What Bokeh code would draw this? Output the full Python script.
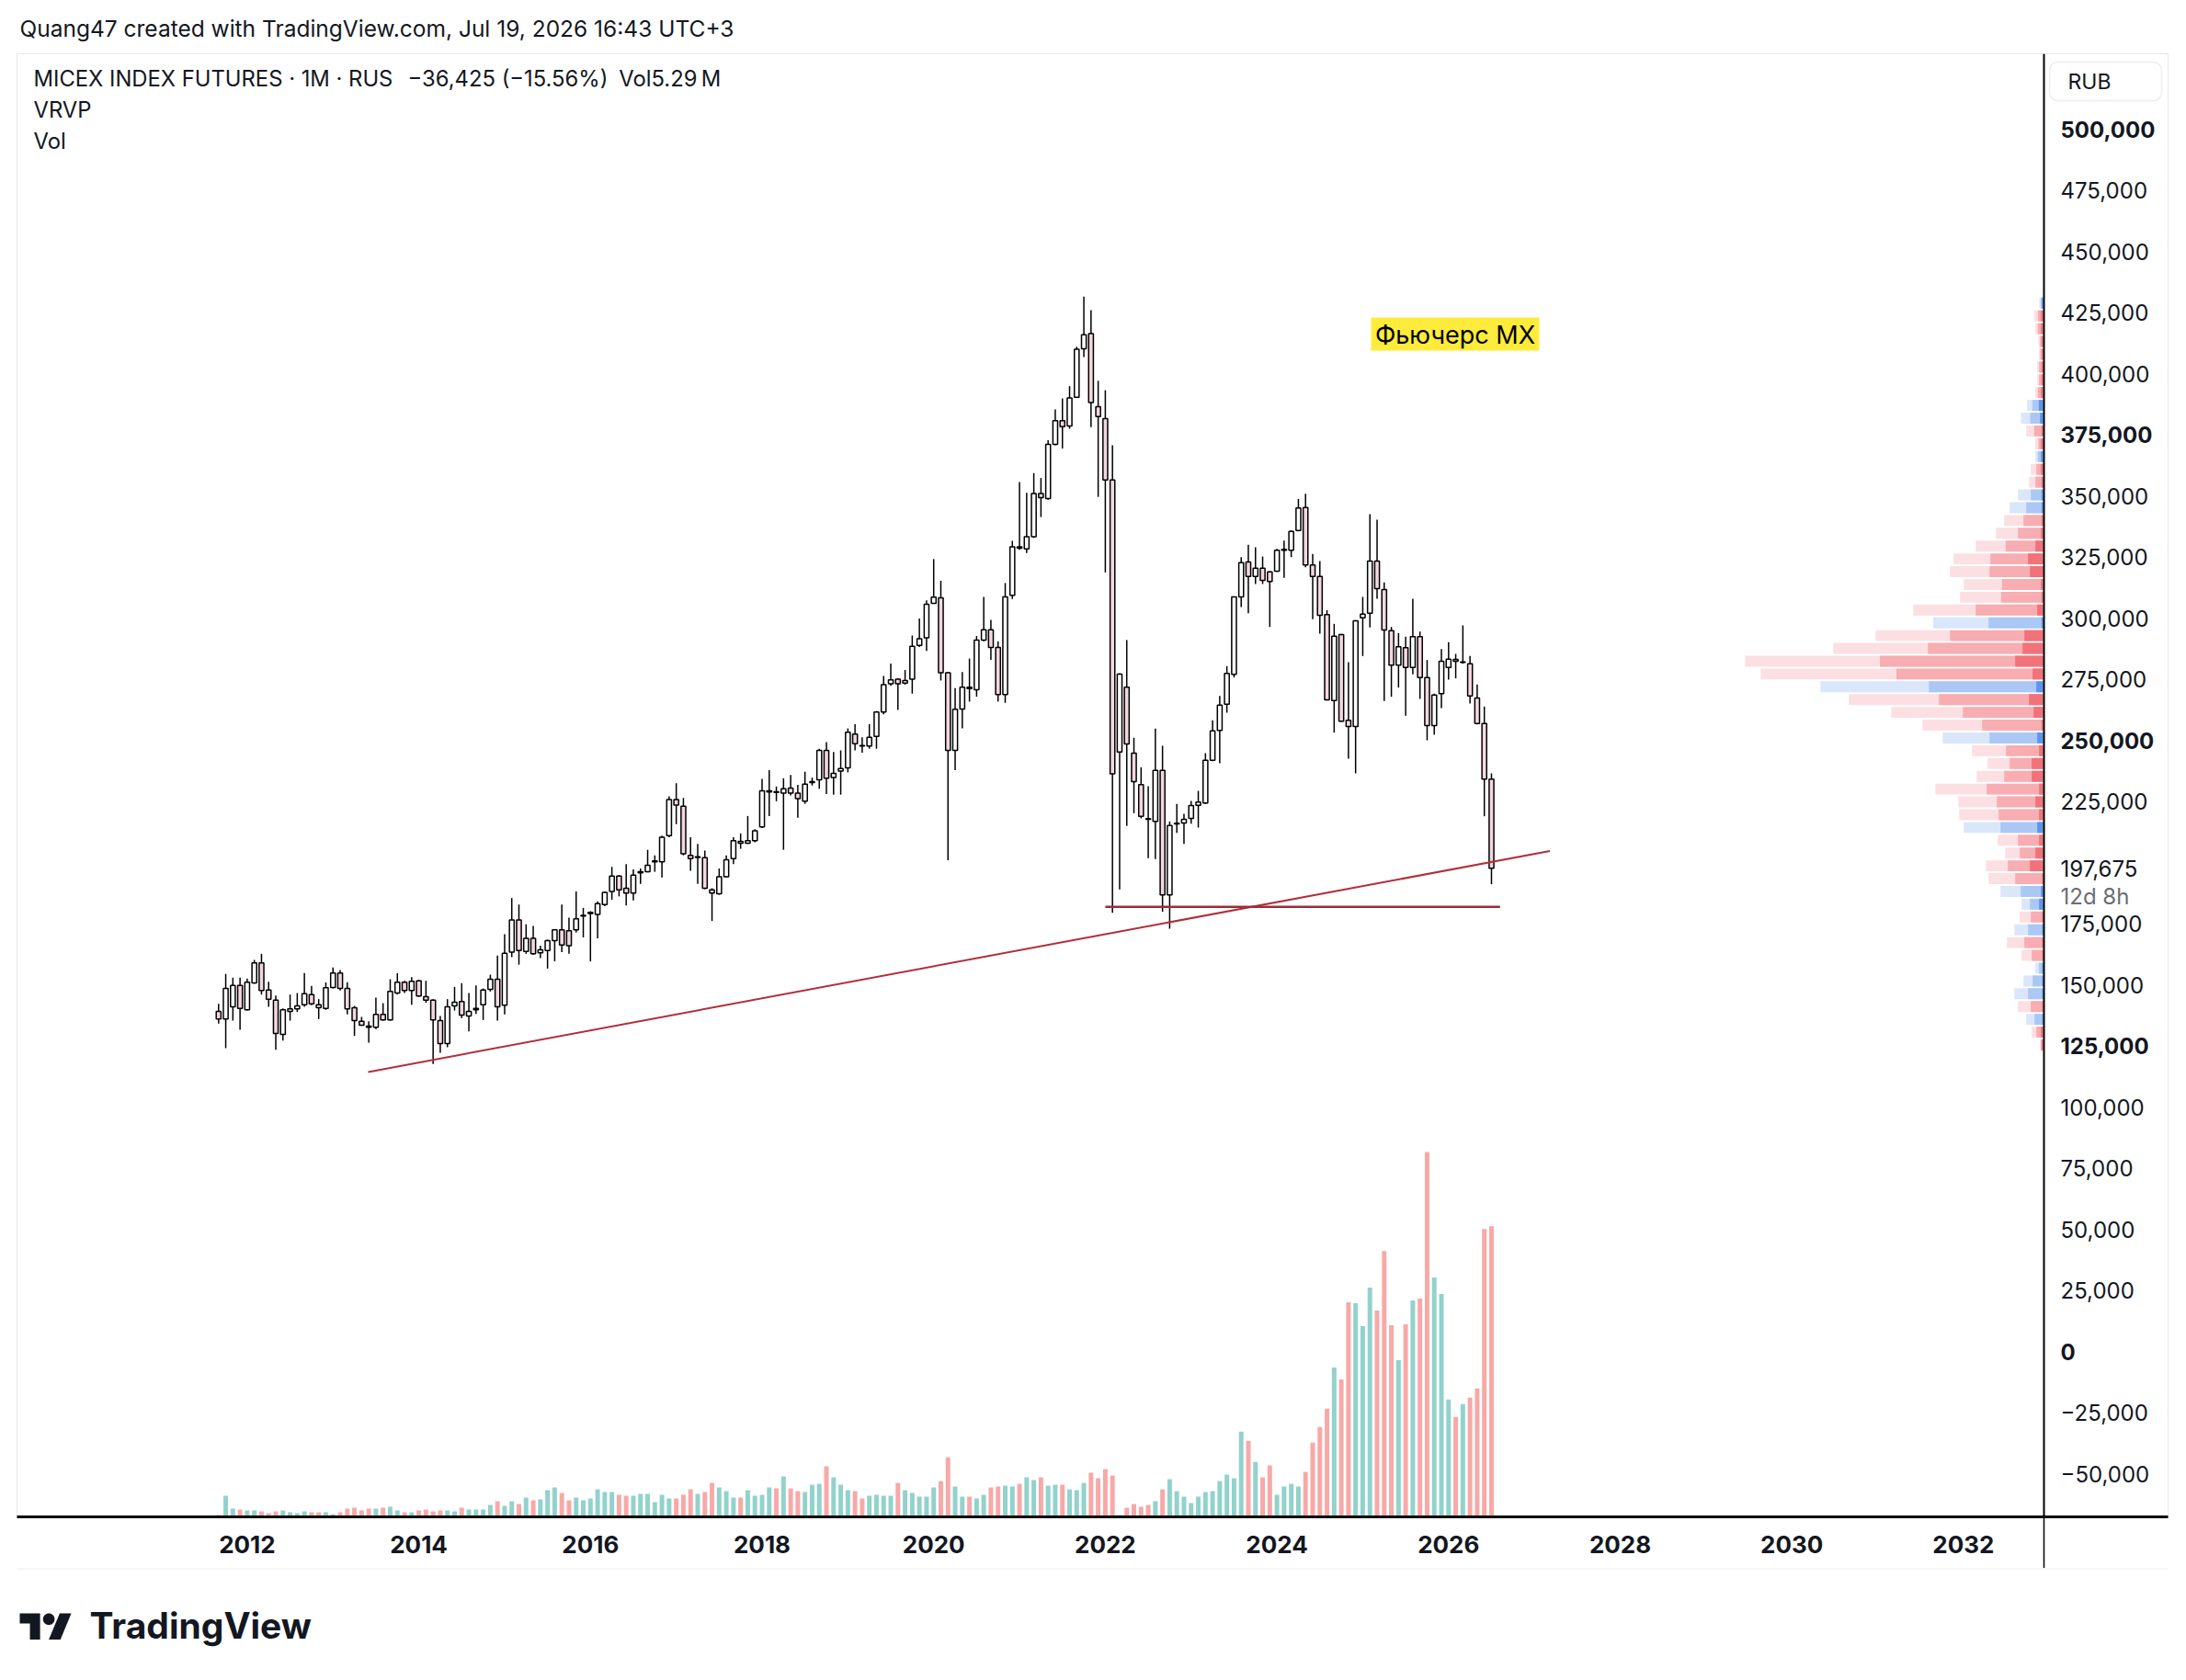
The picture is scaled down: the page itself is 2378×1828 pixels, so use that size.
import numpy as np
import pandas as pd
from bokeh.plotting import figure
from bokeh.layouts import column, row
from bokeh.models import (ColumnDataSource, Range1d, LinearAxis, FixedTicker,
                          CustomJSTickFormatter, Label, Span)
from bokeh.core.properties import value
from bokeh.embed import file_html
from bokeh.resources import INLINE

# ---------------- MICEX index futures, monthly bars (first bar Sep 2011) ----------------
first_month = "2011-09-01"

opens = [
    139136, 136003, 141016, 149787, 139763, 150789, 158934, 147907, 143772, 129738,
    139136, 140138, 141893, 146028, 141893, 140389, 148909, 154798, 148533, 140640,
    135126, 133121, 132620, 137883, 135628, 146654, 151040, 147656, 151666, 145150,
    143772, 135377, 125979, 141392, 143146, 137257, 139763, 141893, 148158, 152292,
    141642, 163362, 176514, 163631, 168999, 163094, 164034, 168060, 172488, 172085,
    172488, 178124, 179198, 178795, 182821, 188189, 194496, 189531, 187518, 195838,
    196241, 200267, 200267, 211003, 225765, 223081, 202951, 202146, 202011, 188860,
    187250, 194228, 201609, 208721, 207916, 208990, 214626, 228852, 228986, 228449,
    230462, 228449, 225094, 232743, 233817, 245895, 234756, 237440, 238782, 252605,
    247908, 247640, 251666, 261596, 273138, 275016, 273406, 275016, 288839, 291926,
    306017, 308298, 277700, 245895, 262827, 271720, 270714, 291017, 295212, 287997,
    268700, 309308, 329108, 328269, 333303, 350922, 348908, 371058, 380790, 378609,
    390355, 410155, 416364, 386496, 381629, 356459, 245208, 271720, 244764, 231858,
    217950, 216823, 237748, 186751, 215821, 216196, 218076, 223465, 224342, 241886,
    254033, 264813, 276967, 308668, 322952, 317063, 320446, 318942, 319193, 327713,
    327713, 335857, 345255, 321699, 317063, 301400, 266316, 293256, 258172, 255666,
    300147, 302027, 323328, 311675, 294884, 280725, 287866, 279848, 292378, 275714,
    256043, 269073, 279848, 283106, 281853, 281352, 267318, 256919, 234100,
]
highs = [
    142268, 154423, 152919, 152919, 152543, 160186, 162692, 151290, 145652, 140389,
    146028, 146654, 154798, 149536, 144148, 151040, 157053, 156052, 151040, 141392,
    136881, 135126, 144774, 142519, 152292, 154798, 151666, 153170, 152042, 151666,
    144148, 137257, 144148, 149160, 150664, 146654, 149787, 148533, 154171, 161941,
    170743, 185505, 182821, 174769, 174098, 166046, 168500, 172756, 182821, 177453,
    188189, 181479, 180137, 184163, 188189, 198254, 194899, 199327, 197180, 197583,
    205232, 202951, 211003, 227107, 232475, 226436, 210332, 207648, 204964, 189531,
    197583, 202951, 210332, 211942, 219055, 213687, 234222, 237843, 231133, 234488,
    235830, 231804, 237172, 234756, 246566, 249250, 245224, 245895, 254886, 256631,
    251263, 256631, 261999, 276358, 281458, 275300, 278774, 292865, 299843, 307224,
    324134, 315276, 278000, 271393, 277929, 283466, 292695, 308632, 299240, 290514,
    314342, 331625, 355620, 351258, 359312, 357298, 372736, 385321, 389860, 394886,
    410994, 431466, 425929, 397067, 393208, 370722, 277426, 291017, 251029, 239001,
    231232, 254788, 247774, 216823, 223965, 219955, 225218, 229353, 244764, 258172,
    268195, 280354, 308900, 324960, 329968, 328966, 325207, 319200, 328340, 331722,
    335857, 348763, 350894, 326209, 323328, 303280, 297641, 293500, 281978, 299145,
    308668, 342498, 340243, 314557, 296388, 293882, 292378, 307916, 294508, 282856,
    269073, 287366, 290123, 285362, 297015, 284485, 272832, 263810, 236495,
]
lows = [
    134124, 124100, 135377, 131618, 139512, 150413, 146028, 141016, 123474, 127232,
    135377, 138885, 141016, 141642, 136003, 139763, 148533, 147656, 137883, 129112,
    133247, 126355, 131868, 135377, 135400, 146028, 146654, 141893, 145150, 142644,
    117584, 122220, 124475, 139512, 136380, 130992, 138134, 135628, 147280, 135377,
    137883, 161349, 158263, 162692, 162289, 160947, 156652, 159604, 163362, 162692,
    171414, 169401, 159604, 168999, 182150, 184834, 186176, 182418, 184566, 191276,
    196000, 196241, 193960, 210332, 215700, 202951, 196644, 191276, 189128, 176111,
    186847, 193960, 199327, 205635, 207648, 208319, 214090, 219055, 225094, 205232,
    227510, 218384, 224020, 231536, 230194, 228046, 227778, 227778, 236904, 245895,
    244956, 246566, 246566, 260657, 272332, 262402, 272735, 269112, 288168, 286558,
    305882, 274480, 200938, 237843, 254940, 265847, 267861, 290514, 282963, 265847,
    265344, 307807, 327934, 326591, 332800, 341357, 348405, 370722, 369380, 377434,
    390020, 406799, 378106, 349580, 318704, 179430, 189005, 214999, 220206, 218076,
    201787, 201412, 179859, 172967, 212186, 207676, 215945, 214317, 223965, 241510,
    240630, 261324, 275714, 304533, 302027, 313930, 313930, 296388, 318942, 316436,
    324956, 335500, 320822, 299521, 293631, 266300, 253160, 257500, 242509, 236495,
    284485, 296137, 307916, 266063, 267820, 271579, 260051, 276967, 266942, 250027,
    252282, 263183, 274836, 275338, 281352, 265063, 256543, 218953, 191136,
]
closes = [
    136003, 148533, 149787, 140389, 151040, 158934, 147656, 144148, 130114, 139763,
    140138, 141392, 146403, 142268, 140640, 148784, 154798, 148533, 140138, 135377,
    133497, 132620, 137883, 135628, 147280, 151040, 147656, 151416, 145401, 143772,
    135628, 125979, 141016, 142895, 137632, 139136, 140389, 147907, 152292, 141016,
    162943, 176514, 164034, 168999, 162692, 164302, 168060, 172488, 166315, 166046,
    177050, 178393, 179600, 183224, 187786, 194496, 188860, 187518, 194899, 196241,
    198925, 200670, 210332, 225765, 223484, 203622, 201609, 202414, 189531, 187518,
    194228, 201206, 208990, 207916, 208990, 213016, 229388, 229388, 228717, 230194,
    228449, 226167, 232072, 233146, 245895, 234488, 236501, 238514, 253276, 248579,
    247640, 251263, 261596, 272735, 274748, 273138, 274480, 288436, 291523, 305614,
    308566, 277700, 245895, 262670, 271720, 271217, 291017, 295212, 287997, 268700,
    308632, 329108, 328605, 333303, 350922, 349244, 371058, 380790, 378273, 390020,
    409988, 415861, 388174, 382468, 356459, 236313, 277090, 248564, 233112, 218953,
    217700, 237748, 186751, 215194, 216071, 217700, 223339, 224718, 241886, 253834,
    264437, 277342, 308668, 322701, 317063, 320446, 315434, 314932, 327713, 328089,
    335482, 345004, 321699, 317063, 301151, 266567, 292629, 257796, 255666, 298894,
    301651, 323328, 312050, 295135, 280725, 288243, 279848, 292378, 275714, 256043,
    268573, 282354, 283232, 282354, 282104, 268195, 256919, 234100, 197675,
]
# monthly volume, millions
volumes = [
    0.033, 0.384, 0.150, 0.134, 0.117, 0.117, 0.100, 0.067, 0.100, 0.117,
    0.083, 0.067, 0.100, 0.083, 0.083, 0.083, 0.050, 0.083, 0.150, 0.167,
    0.117, 0.150, 0.150, 0.167, 0.184, 0.117, 0.083, 0.083, 0.117, 0.134,
    0.100, 0.117, 0.117, 0.100, 0.167, 0.134, 0.134, 0.134, 0.217, 0.284,
    0.200, 0.284, 0.234, 0.350, 0.300, 0.317, 0.484, 0.534, 0.434, 0.300,
    0.350, 0.300, 0.334, 0.501, 0.451, 0.451, 0.401, 0.384, 0.384, 0.417,
    0.417, 0.267, 0.401, 0.334, 0.334, 0.401, 0.501, 0.417, 0.451, 0.617,
    0.534, 0.467, 0.350, 0.350, 0.484, 0.384, 0.401, 0.534, 0.517, 0.734,
    0.517, 0.467, 0.451, 0.584, 0.601, 0.918, 0.718, 0.584, 0.484, 0.467,
    0.334, 0.384, 0.401, 0.384, 0.384, 0.617, 0.484, 0.434, 0.367, 0.367,
    0.534, 0.651, 1.085, 0.551, 0.367, 0.367, 0.334, 0.401, 0.534, 0.551,
    0.567, 0.551, 0.601, 0.718, 0.668, 0.718, 0.567, 0.584, 0.584, 0.501,
    0.484, 0.617, 0.801, 0.701, 0.868, 0.751, 0.033, 0.167, 0.234, 0.184,
    0.217, 0.284, 0.501, 0.684, 0.467, 0.367, 0.250, 0.367, 0.451, 0.467,
    0.651, 0.768, 0.701, 1.552, 1.385, 1.001, 0.718, 0.935, 0.401, 0.551,
    0.601, 0.551, 0.818, 1.352, 1.636, 1.969, 2.720, 2.503, 3.905, 3.889,
    3.471, 4.172, 3.755, 4.840, 3.488, 2.854, 3.505, 3.939, 3.972, 6.642,
    4.356, 4.055, 2.136, 1.819, 2.053, 2.170, 2.336, 5.240, 5.290,
]

# ---------------- visible range volume profile: 60 rows, lowest row first ----------------
vp_total = [0, 9, 37, 55, 82, 94, 64, 25, 70, 118,
            94, 76, 70, 139, 178, 187, 124, 148, 259, 274,
            277, 352, 217, 181, 232, 328, 394, 496, 634, 727,
            922, 973, 685, 547, 359, 424, 271, 259, 304, 292,
            220, 154, 127, 109, 82, 46, 40, 25, 25, 55,
            72, 52, 25, 19, 19, 13, 15, 25, 29, 12]
vp_mid = [0, 7, 22, 28, 40, 49, 34, 13, 37, 61,
          49, 40, 43, 73, 91, 115, 76, 82, 139, 145,
          151, 184, 127, 109, 121, 175, 199, 262, 340, 373,
          479, 533, 376, 304, 178, 220, 137, 134, 175, 172,
          122, 82, 64, 55, 40, 25, 22, 17, 15, 29,
          42, 35, 17, 13, 13, 9, 10, 17, 17, 7]
vp_core = [0, 5, 7, 3, 3, 3, 3, 3, 3, 3,
           3, 3, 13, 7, 3, 43, 25, 13, 19, 13,
           25, 13, 37, 37, 13, 19, 5, 31, 46, 22,
           34, 91, 67, 61, 5, 19, 5, 7, 43, 49,
           25, 7, 5, 5, 5, 5, 7, 7, 7, 5,
           10, 14, 7, 5, 5, 4, 5, 7, 7, 4]
vp_up = [0, 0, 0, 1, 0, 1, 1, 1, 0, 0,
         1, 0, 1, 1, 0, 0, 0, 0, 1, 0,
         0, 0, 0, 0, 0, 1, 0, 0, 0, 1,
         0, 0, 0, 0, 1, 0, 0, 0, 0, 0,
         0, 0, 0, 1, 1, 0, 0, 1, 0, 0,
         1, 1, 0, 0, 0, 0, 0, 0, 0, 1]

# ---------------- scales ----------------
price_ticks = [500000, 475000, 450000, 425000, 400000, 375000, 350000, 325000, 300000,
               275000, 250000, 225000, 175000, 150000, 125000, 100000, 75000, 50000,
               25000, 0, -25000, -50000]
bold_price_ticks = [500000, 375000, 250000, 125000, 0]
year_ticks = [2012, 2014, 2016, 2018, 2020, 2022, 2024, 2026, 2028, 2030, 2032]

# ---------------- drawings ----------------
support_t = [2013.41, 2027.18]
support_p = [114354, 204696]
floor_t = [2022.0, 2026.6]
floor_p = [181885, 181885]
note_text = "Фьючерс MX"

header_text = "Quang47 created with TradingView.com, Jul 19, 2026 16:43 UTC+3"

# ---------------- page geometry (px) ----------------
W, H = 2378, 1828
FL, FT, FB = 18, 58, 1650          # chart widget: left, top, time-scale line
AXIS_X = 2222                      # price scale line
PANE_R, PANE_B = 2358, 1706        # right / bottom edge of the widget
YEAR_PX, X2012 = 93.35, 268.4      # time scale
PRICE_PER_PX, Y500K = 375.9, 140.0 # price scale


def price_at(py):
    return 500000 - (py - Y500K) * PRICE_PER_PX


def time_at(px):
    return 2012 + (px - X2012) / YEAR_PX


def sx(px):
    return px - FL


def sy(py):
    return FB - py


INK = "#131722"
FONT = "Inter"
FAINT = "#e6e8ee"

months = pd.date_range(first_month, periods=len(closes), freq="MS")
t = (months.year + (months.month - 1) / 12.0).to_numpy(dtype=float)
o = np.array(opens, dtype=float)
c = np.array(closes, dtype=float)
up = c >= o

src = ColumnDataSource(dict(
    t=t, o=o, c=c, h=highs, l=lows,
    top=np.maximum(o, c), bottom=np.minimum(o, c),
    fill=np.where(up, "#ffffff", "#f3d7df"),
    vol=volumes, vcol=np.where(up, "#92d2cc", "#f7a9a7"),
))


def bare(fig):
    fig.toolbar.logo = None
    fig.xgrid.visible = False
    fig.ygrid.visible = False
    return fig


# ================= chart widget: price pane + price scale column =================
p = figure(width=W, height=PANE_B - FT,
           x_range=Range1d(time_at(FL), time_at(PANE_R)),
           y_range=Range1d(price_at(FB), price_at(FT)),
           x_axis_type=None, y_axis_type=None, output_backend="svg", toolbar_location=None,
           min_border_left=FL, min_border_right=W - PANE_R, min_border_top=0,
           min_border_bottom=PANE_B - FB, outline_line_color=FAINT,
           background_fill_color="white", border_fill_color="white")

# volume overlay: tallest bar uses a quarter of the pane height
p.extra_y_ranges = {"vol": Range1d(0, max(volumes) / 0.2494)}
# volume profile hangs off the price scale line and grows to the left
vp_per_px = max(vp_total) / 324.0
p.extra_x_ranges = {"vp": Range1d((AXIS_X - FL) * vp_per_px, (AXIS_X - PANE_R) * vp_per_px)}

p.vbar(x="t", top="vol", bottom=0, width=0.64 / 12, fill_color="vcol", line_color=None,
       y_range_name="vol", source=src)

lo_p, hi_p = min(lows), max(highs)
n_rows = len(vp_total)
row_h = (hi_p - lo_p) / n_rows
vp_src = ColumnDataSource(dict(
    y=[lo_p + (k + 0.5) * row_h for k in range(n_rows)],
    total=vp_total, mid=vp_mid, core=vp_core,
    c1=["#dae6fa" if u else "#fcdfe2" for u in vp_up],
    c2=["#abc8f5" if u else "#f7adb1" for u in vp_up],
    c3=["#5b96ee" if u else "#f1727a" for u in vp_up],
))
for col, fc in (("total", "c1"), ("mid", "c2"), ("core", "c3")):
    p.hbar(y="y", left=0, right=col, height=row_h * 0.86, fill_color=fc, line_color=None,
           x_range_name="vp", source=vp_src)

# candles
p.segment(x0="t", y0="l", x1="t", y1="h", line_color="#000000", line_width=1.5, source=src)
p.vbar(x="t", top="top", bottom="bottom", width=0.66 / 12, fill_color="fill",
       line_color="#000000", line_width=1.5, source=src)

# trend lines
p.line(support_t, support_p, line_color="#b32d3b", line_width=2)
p.line(floor_t, floor_p, line_color="#9c2d37", line_width=2.4)

# text note
p.quad(left=[time_at(1491)], right=[time_at(1674)], top=[price_at(345)],
       bottom=[price_at(381)], fill_color="#ffeb3b", line_color=None)
p.text(x=[time_at(1582.5)], y=[price_at(363.5)], text=[note_text], text_font=value(FONT),
       text_font_size=value("27px"), text_color="#000000", text_baseline="middle",
       text_align="center")

# price scale
p.add_layout(Span(location=time_at(AXIS_X + 1), dimension="height",
                  line_color="#000000", line_width=2))
p.quad(left=[time_at(2229)], right=[time_at(2351)], top=[price_at(67)],
       bottom=[price_at(109)], fill_color="white", line_color="#eceef2", line_width=1.5,
       border_radius=9)
p.text(x=[time_at(2249)], y=[price_at(88)], text=["RUB"], text_font=value(FONT),
       text_font_size=value("23px"), text_color=INK, text_baseline="middle",
       text_align="left")

label_x = time_at(2241)
fmt = lambda v: f"{v:,}".replace("-", "\u2212")
normal = [v for v in price_ticks if v not in bold_price_ticks] + [closes[-1]]
p.text(x=[label_x] * len(normal), y=normal, text=[fmt(v) for v in normal],
       text_font=value(FONT), text_font_size=value("24px"), text_color=INK,
       text_baseline="middle", text_align="left")
p.text(x=[label_x] * len(bold_price_ticks), y=bold_price_ticks,
       text=[fmt(v) for v in bold_price_ticks], text_font=value(FONT),
       text_font_size=value("24px"), text_font_style="bold", text_color=INK,
       text_baseline="middle", text_align="left")
p.text(x=[label_x], y=[closes[-1] - 31 * PRICE_PER_PX], text=["12d 8h"],
       text_font=value(FONT), text_font_size=value("24px"), text_color="#6a6d78",
       text_baseline="middle", text_align="left")

# time scale; the single minor tick carries the price-scale line down through it,
# so the label standoff is measured back from the end of that tick
TICK_DROP = PANE_B - FB
xaxis = LinearAxis(ticker=FixedTicker(ticks=year_ticks, minor_ticks=[time_at(AXIS_X + 1)]),
                   formatter=CustomJSTickFormatter(code="return Math.round(tick).toString();"),
                   axis_line_color="#000000", axis_line_width=3,
                   major_tick_in=0, major_tick_out=0, major_tick_line_color=None,
                   minor_tick_in=0, minor_tick_out=TICK_DROP,
                   minor_tick_line_color="#000000", minor_tick_line_width=1.5,
                   major_label_standoff=20 - TICK_DROP,
                   major_label_text_font=FONT, major_label_text_font_size="26px",
                   major_label_text_font_style="bold", major_label_text_color=INK)
p.add_layout(xaxis, "below")

# pane legend
chg = closes[-1] - closes[-2]
pct = chg / closes[-2] * 100
legend_line = ("MICEX INDEX FUTURES \u00b7 1M \u00b7 RUS\u2002\u2009"
               f"{chg:,.0f} ({pct:.2f}%)\u2002Vol{volumes[-1]:.2f}\u2009M").replace("-", "\u2212")
for txt, px, py in ((legend_line, 36, 85), ("VRVP", 36, 119), ("Vol", 36, 153)):
    p.add_layout(Label(x=sx(px), y=sy(py), x_units="screen", y_units="screen", text=txt,
                       text_font=FONT, text_font_size="23.8px", text_color=INK,
                       text_baseline="middle", text_align="left"))
bare(p)

# ================= header strip =================
head = figure(width=W, height=FT, x_range=Range1d(0, W), y_range=Range1d(FT, 0),
              x_axis_type=None, y_axis_type=None, output_backend="svg",
              toolbar_location=None, min_border=0, outline_line_color=None,
              background_fill_color="white", border_fill_color="white")
head.text(x=[21], y=[30], text=[header_text], text_font=value(FONT),
          text_font_size=value("24.5px"), text_color=INK, text_baseline="middle",
          text_align="left")
bare(head)

# ================= footer with wordmark =================
foot = figure(width=W, height=H - PANE_B, x_range=Range1d(0, W), y_range=Range1d(H, PANE_B),
              x_axis_type=None, y_axis_type=None, output_backend="svg",
              toolbar_location=None, min_border=0, outline_line_color=None,
              background_fill_color="white", border_fill_color="white")
foot.segment(x0=[FL], y0=[PANE_B + 0.5], x1=[PANE_R], y1=[PANE_B + 0.5],
             line_color=FAINT, line_width=1)
sc = 1.58
ox, oy = 21.0, 1755.0 - 4 * sc
shape_a = [(14, 22), (7, 22), (7, 11), (0, 11), (0, 4), (14, 4)]
shape_b = [(28, 22), (20, 22), (27.5, 4), (35.5, 4)]
ang = np.linspace(0, 2 * np.pi, 40, endpoint=False)
shape_c = list(zip(20 + 4 * np.cos(ang), 8 + 4 * np.sin(ang)))
foot.patches(xs=[[ox + u * sc for u, _ in shp] for shp in (shape_a, shape_b, shape_c)],
             ys=[[oy + v * sc for _, v in shp] for shp in (shape_a, shape_b, shape_c)],
             fill_color=INK, line_color=None)
foot.text(x=[97], y=[1768], text=["TradingView"], text_font=value(FONT),
          text_font_size=value("39px"), text_font_style="bold", text_color=INK,
          text_baseline="middle", text_align="left")
bare(foot)

page = column(head, row(p, spacing=0), foot, spacing=0)

with open("out.html", "w") as f:
    f.write(file_html(page, INLINE, title="MICEX index futures"))
